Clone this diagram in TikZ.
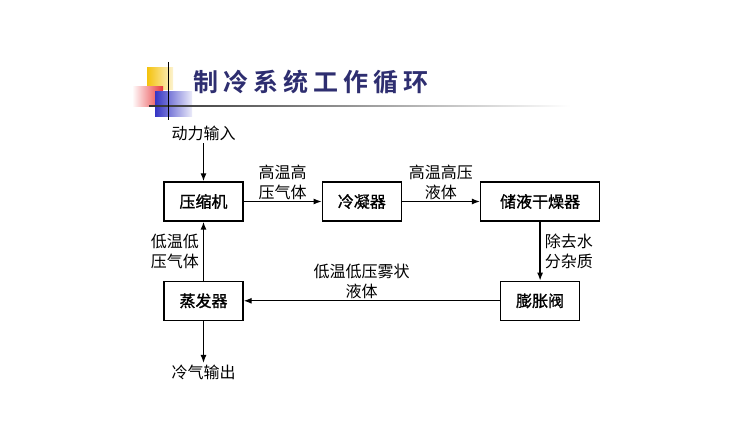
\documentclass[tikz,border=0pt]{standalone}
\usepackage{fontspec}
\newfontfamily\cjk{Noto Sans CJK SC}
\newfontfamily\cjkbox[FakeBold=1.2]{Noto Sans CJK SC}
\newfontfamily\cjktitle[LetterSpace=20]{Noto Sans CJK SC Bold}
\usetikzlibrary{positioning,arrows.meta}
\definecolor{titleblue}{HTML}{2E2E70}
\definecolor{sqyellow}{HTML}{F4C20D}
\definecolor{sqred}{HTML}{E8383C}
\definecolor{sqblue}{HTML}{3434C4}

\begin{document}
\begin{tikzpicture}[x=1pt,y=-1pt,
                    >={Latex[length=8pt,width=6pt]},
                    line width=1.3pt,
                    node distance=78pt,
                    box node/.style={rectangle,draw,minimum width=79pt,minimum height=39pt,
                                     font=\cjkbox\fontsize{16}{20}\selectfont},
                    lbl/.style={font=\cjk\fontsize{16}{20}\selectfont,align=center,inner sep=1.5pt}]

  \useasboundingbox (0,0) rectangle (750,435);

  % title bar
  \shade[left color=sqyellow,right color=sqyellow!20] (147,68) rectangle (173,90);
  \shade[left color=white,right color=sqred] (132,87) rectangle (163,107);
  \shade[left color=sqblue,right color=sqblue!10] (155,92) rectangle (192,117);
  \shade[left color=black!80,right color=white,draw=none] (149,105.3) rectangle (570,106.7);
  \draw[line width=1pt] (168,62) -- (168,120);
  \node[font=\cjktitle\fontsize{25}{25}\selectfont,text=titleblue,anchor=west] (title) at (190,82) {制冷系统工作循环};

  \node[box node] (comp) at (203.5,201.5) {压缩机};
  \node[box node] (cond) [right=of comp] {冷凝器};
  \node[box node,minimum width=119pt] (dryer) [right=of cond] {储液干燥器};
  \node[box node] (valve) [below=59pt of dryer] {膨胀阀};
  \node[box node] (evap) [below=59pt of comp] {蒸发器};
  \node[lbl] (in) [above=38pt of comp] {动力输入};
  \node[lbl] (out) [below=42pt of evap] {冷气输出};

  \path[->]
    (in)    edge (comp)
    (comp)  edge node[lbl,above] {高温高\\压气体} (cond)
    (cond)  edge node[lbl,above] {高温高压\\液体} (dryer)
    (dryer) edge node[lbl,right,inner sep=4pt] {除去水\\分杂质} (valve)
    (valve) edge node[lbl,above,pos=0.54] {低温低压雾状\\液体} (evap)
    (evap)  edge node[lbl,left,inner sep=4pt] {低温低\\压气体} (comp)
            edge (out);
\end{tikzpicture}
\end{document}
